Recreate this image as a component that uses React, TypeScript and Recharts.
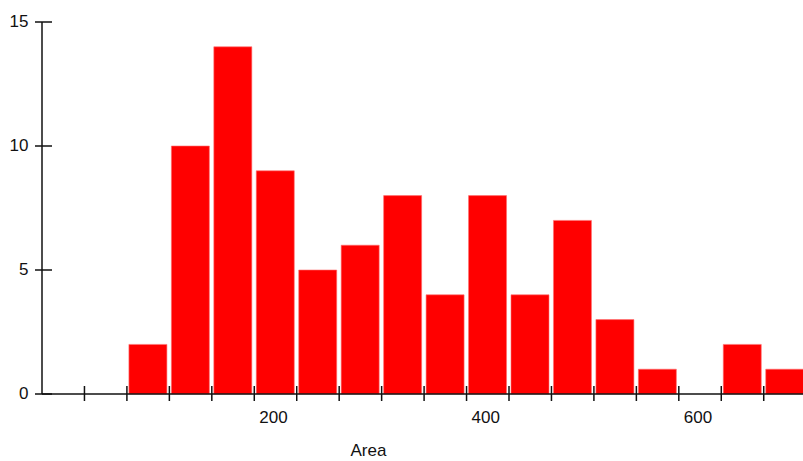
import { Bar, BarChart, Label, XAxis, YAxis } from 'recharts';

// histogram bins of width 40 (start of each bin) and their counts
const binStarts = [0, 40, 80, 120, 160, 200, 240, 280, 320, 360, 400, 440, 480, 520, 560, 600, 640, 680];
const counts = [0, 0, 2, 10, 14, 9, 5, 6, 8, 4, 8, 4, 7, 3, 1, 0, 2, 1];
const xTicks = [40, 80, 120, 160, 200, 240, 280, 320, 360, 400, 440, 480, 520, 560, 600, 640, 680];
const xLabels = [200, 400, 600];
const yTicks = [0, 5, 10, 15];

const BIN_WIDTH = 40;
const FONT = 'Arial, "Liberation Sans", sans-serif';

const data = binStarts.map((start, i) => ({ mid: start + BIN_WIDTH / 2, count: counts[i] }));

function XTick({ x, y, payload }: { x?: number; y?: number; payload?: { value: number } }) {
  if (x == null || y == null || !payload) return null;
  const showLabel = xLabels.includes(payload.value);
  return (
    <g>
      <line x1={x} x2={x} y1={y - 8} y2={y + 7} stroke="#111" strokeWidth={1.5} />
      {showLabel && (
        <text x={x + 5} y={y + 28.5} textAnchor="start" fontSize={17} fill="#111" fontFamily={FONT}>
          {payload.value}
        </text>
      )}
    </g>
  );
}

function YTick({ x, y, payload }: { x?: number; y?: number; payload?: { value: number } }) {
  if (x == null || y == null || !payload) return null;
  return (
    <g>
      <line x1={x - 7} x2={x + 10} y1={y} y2={y} stroke="#111" strokeWidth={1.5} />
      <text x={x - 13.5} y={y + 5} textAnchor="end" fontSize={17} fill="#111" fontFamily={FONT}>
        {payload.value}
      </text>
    </g>
  );
}

export default function App() {
  return (
    <div style={{ position: 'absolute', left: 0, top: 0, background: '#fff' }}>
      <BarChart width={803} height={461} data={data} margin={{ top: 22, right: 0, bottom: 0, left: 0 }}>
        <XAxis
          dataKey="mid"
          type="number"
          domain={[0, 717]}
          ticks={xTicks}
          interval={0}
          height={67}
          tickSize={0}
          tickMargin={0}
          tickLine={false}
          tick={<XTick />}
          axisLine={{ stroke: '#111', strokeWidth: 1.5 }}
          allowDataOverflow
        >
          <Label
            value="Area"
            position="insideBottom"
            offset={5}
            dx={-54}
            style={{ fontSize: 17, fill: '#111', fontFamily: FONT }}
          />
        </XAxis>
        <YAxis
          domain={[0, 15]}
          ticks={yTicks}
          width={42}
          tickSize={0}
          tickMargin={0}
          tickLine={false}
          tick={<YTick />}
          axisLine={{ stroke: '#111', strokeWidth: 1.5 }}
        />
        <Bar dataKey="count" fill="#ff0000" stroke="#ff7070" strokeWidth={0.6} barSize={38} isAnimationActive={false} />
      </BarChart>
    </div>
  );
}
